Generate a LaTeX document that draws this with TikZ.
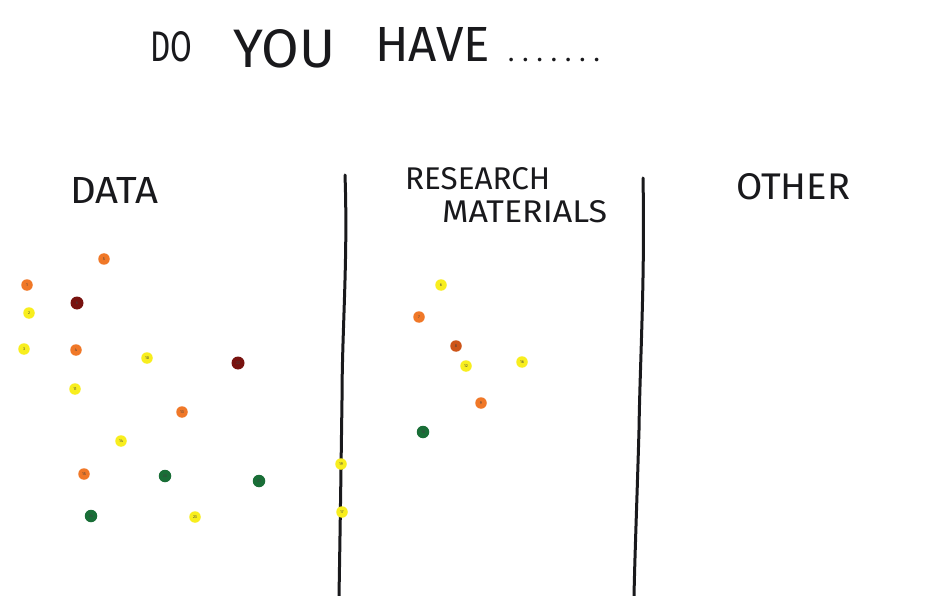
\documentclass[tikz,border=0pt]{standalone}
\usepackage{fontspec}
\setmainfont{Fira Sans}
\usepackage{graphicx}
\usetikzlibrary{positioning}

\definecolor{ink}{RGB}{25,25,28}
\definecolor{dotorange}{RGB}{240,120,40}
\definecolor{dotdeep}{RGB}{205,85,25}
\definecolor{dotyellow}{RGB}{248,238,30}
\definecolor{dotred}{RGB}{120,18,15}
\definecolor{dotgreen}{RGB}{25,110,55}

\tikzset{
  sticker/.style={circle, minimum size=11.5pt, inner sep=0pt,
    font=\fontsize{4}{4}\selectfont, text=black!75},
  orangedot/.style={sticker, fill=dotorange},
  deepdot/.style={sticker, fill=dotdeep},
  yellowdot/.style={sticker, fill=dotyellow},
  reddot/.style={sticker, fill=dotred, minimum size=13pt},
  greendot/.style={sticker, fill=dotgreen, minimum size=12.5pt},
  hand/.style={anchor=south west, inner sep=0pt, text=ink},
  divider/.style={ink, line width=3pt, line cap=round}
}

\begin{document}
\begin{tikzpicture}[x=1pt,y=-1pt]
  \useasboundingbox[fill=white] (0,0) rectangle (940,596);

  % question
  \node[hand] (qdo) at (150,62) {\resizebox{42pt}{30pt}{DO}};
  \node[hand] (qyou) at (233,68) {\resizebox{102pt}{38pt}{YOU}};
  \node[hand] (qhave) at (375,62) {\resizebox{115pt}{34pt}{HAVE}};
  \node[hand] (qdots) at (508,62) {\fontsize{26}{26}\selectfont
    .\kern8pt.\kern8pt.\kern8pt.\kern8pt.\kern8pt.\kern8pt.};

  % column heads
  \node[hand] (hdata) at (70,204) {\resizebox{88pt}{26pt}{DATA}};
  \node[hand] (hres) at (405,190) {\resizebox{145pt}{22pt}{RESEARCH}};
  \node[hand] (hmat) at (442,223) {\resizebox{165pt}{22pt}{MATERIALS}};
  \node[hand] (hother) at (736,200) {\resizebox{114pt}{26pt}{OTHER}};

  % dividers
  \draw[divider] (345,175) .. controls (348,260) and (342,330) .. (342,400)
                 .. controls (341,470) and (340,540) .. (339,596);
  \draw[divider] (643,178) .. controls (645,280) and (640,360) .. (639,430)
                 .. controls (637,500) and (635,550) .. (634,596);

  % data stickers
  \node[orangedot] (d5) at (104,259) {5};
  \node[orangedot] (d1) at (27,285) {1};
  \node[reddot] (d6) at (77,303) {6};
  \node[yellowdot] (d2) at (29,313) {2};
  \node[yellowdot] (d3) at (24,349) {3};
  \node[orangedot] (d4) at (76,350) {4};
  \node[yellowdot] (d10) at (147,358) {10};
  \node[reddot] (d22) at (238,363) {22};
  \node[yellowdot] (d11) at (75,389) {11};
  \node[orangedot] (d13) at (182,412) {13};
  \node[yellowdot] (d14) at (121,441) {14};
  \node[orangedot] (d15) at (84,474) {15};
  \node[greendot] (d20) at (165,476) {20};
  \node[greendot] (d21) at (259,481) {21};
  \node[greendot] (d24) at (91,516) {24};
  \node[yellowdot] (d23) at (195,517) {23};

  % on the line
  \node[yellowdot] (l19) at (341,464) {19};
  \node[yellowdot] (l17) at (342,512) {17};

  % research stickers
  \node[yellowdot] (r6) at (441,285) {6};
  \node[orangedot] (r7) at (419,317) {7};
  \node[deepdot] (r8) at (456,346) {8};
  \node[yellowdot] (r12) at (466,366) {12};
  \node[yellowdot] (r16) at (522,362) {16};
  \node[orangedot] (r9) at (481,403) {9};
  \node[greendot] (r18) at (423,432) {18};
\end{tikzpicture}
\end{document}
